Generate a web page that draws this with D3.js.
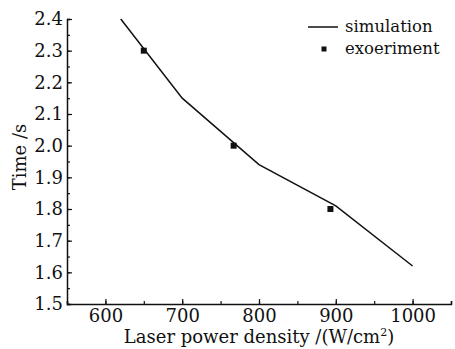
<!DOCTYPE html>
<html>
<head>
<meta charset="utf-8">
<script src="https://cdn.jsdelivr.net/npm/d3@7"></script>
<style>
body { margin:0; background:#fff; }
svg text { font-family: "DejaVu Serif", serif; fill:#111; }
</style>
</head>
<body>
<div id="chart"></div>
<script>
// datos
var simX = [620, 700, 800, 900, 1000];
var simY = [2.40, 2.15, 1.94, 1.81, 1.62];
var expX = [650, 767, 893];
var expY = [2.30, 2.00, 1.80];
var xTicks = [600, 700, 800, 900, 1000];
var yTicks = [1.5, 1.6, 1.7, 1.8, 1.9, 2.0, 2.1, 2.2, 2.3, 2.4];

var W = 455, H = 349;
var m = {left: 67, right: 4, top: 19, bottom: 45};
var fs = "18px";

var svg = d3.select("#chart").append("svg")
	.attr("width", W)
	.attr("height", H);

var x = d3.scaleLinear().domain([550, 1050]).range([m.left, W - m.right]);
var y = d3.scaleLinear().domain([1.5, 2.4]).range([H - m.bottom, m.top]);

// eje x (menores y mayores)
var gx = svg.append("g").attr("transform", "translate(0," + (H - m.bottom) + ")");
gx.call(d3.axisBottom(x).tickValues(d3.range(550, 1051, 50)).tickSize(-3).tickFormat(""));
gx.select(".domain").attr("stroke", "#111").attr("stroke-width", 1.5);
gx.selectAll(".tick line").attr("stroke", "#111").attr("stroke-width", 1.2);
var gx2 = svg.append("g").attr("transform", "translate(0," + (H - m.bottom) + ")");
gx2.call(d3.axisBottom(x).tickValues(xTicks).tickSize(-5).tickPadding(5).tickFormat(d3.format("d")));
gx2.select(".domain").remove();
gx2.selectAll(".tick line").attr("stroke", "#111").attr("stroke-width", 1.2);
gx2.selectAll(".tick text").attr("font-size", fs);

// eje y
var gy = svg.append("g").attr("transform", "translate(" + m.left + ",0)");
gy.call(d3.axisLeft(y).tickValues(d3.range(1.5, 2.41, 0.05)).tickSize(-3).tickFormat(""));
gy.select(".domain").attr("stroke", "#111").attr("stroke-width", 1.5);
gy.selectAll(".tick line").attr("stroke", "#111").attr("stroke-width", 1.2);
var gy2 = svg.append("g").attr("transform", "translate(" + m.left + ",0)");
gy2.call(d3.axisLeft(y).tickValues(yTicks).tickSize(-5).tickPadding(4).tickFormat(d3.format(".1f")));
gy2.select(".domain").remove();
gy2.selectAll(".tick line").attr("stroke", "#111").attr("stroke-width", 1.2);
gy2.selectAll(".tick text").attr("font-size", fs);

// titulos
var xt = svg.append("text")
	.attr("x", 259)
	.attr("y", 343)
	.attr("text-anchor", "middle")
	.attr("font-size", fs);
xt.append("tspan").text("Laser power density /(W/cm");
xt.append("tspan").attr("font-size", "11px").attr("dy", -7).text("2");
xt.append("tspan").attr("dy", 7).text(")");

svg.append("text")
	.attr("transform", "translate(26,157) rotate(-90)")
	.attr("text-anchor", "middle")
	.attr("font-size", fs)
	.text("Time /s");

// linea simulacion
var simData = simX.map(function(d, i){ return [d, simY[i]]; });
svg.append("path")
	.datum(simData)
	.attr("fill", "none")
	.attr("stroke", "#111")
	.attr("stroke-width", 1.5)
	.attr("d", d3.line().x(function(d){ return x(d[0]); }).y(function(d){ return y(d[1]); }));

// puntos experimento
var expData = expX.map(function(d, i){ return [d, expY[i]]; });
svg.selectAll("rect.exp")
	.data(expData)
	.enter()
	.append("rect")
	.attr("class", "exp")
	.attr("x", function(d){ return x(d[0]) - 3; })
	.attr("y", function(d){ return y(d[1]) - 3; })
	.attr("width", 6)
	.attr("height", 6)
	.attr("fill", "#111");

// leyenda
svg.append("line")
	.attr("x1", 308).attr("x2", 338)
	.attr("y1", 27).attr("y2", 27)
	.attr("stroke", "#111").attr("stroke-width", 1.5);
svg.append("text").attr("x", 345).attr("y", 32).attr("font-size", "16.5px").text("simulation");
svg.append("rect")
	.attr("x", 321.5).attr("y", 46.5)
	.attr("width", 5).attr("height", 5)
	.attr("fill", "#111");
svg.append("text").attr("x", 345).attr("y", 54).attr("font-size", "16.5px").text("exoeriment");
</script>
</body>
</html>
